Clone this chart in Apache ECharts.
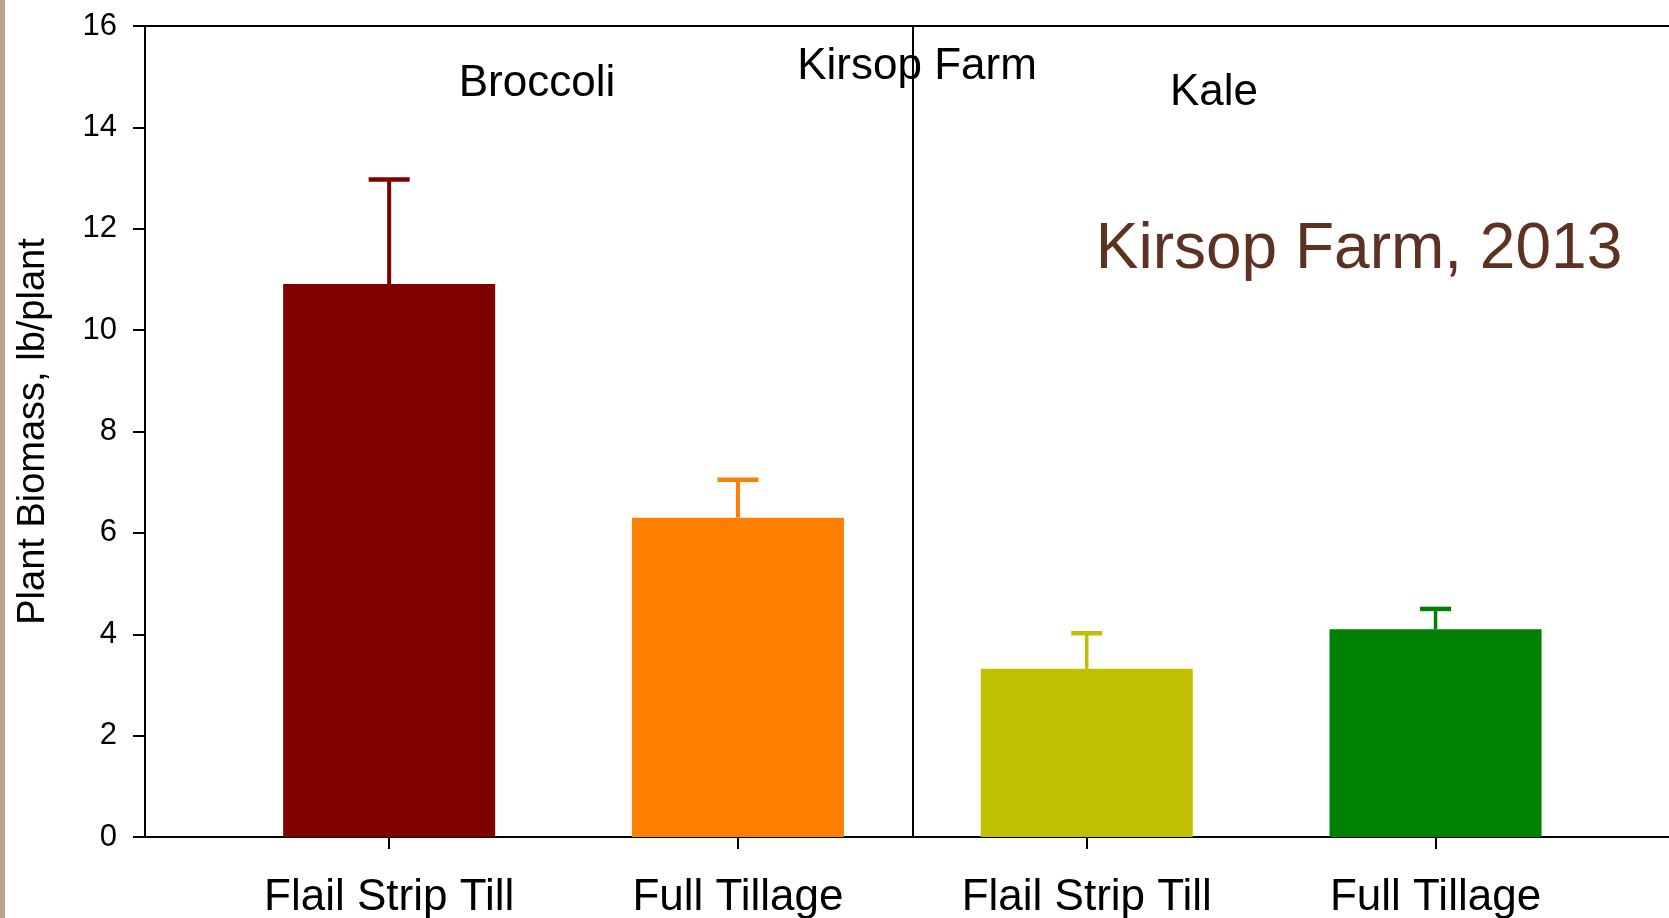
<!DOCTYPE html>
<html>
<head>
<meta charset="utf-8">
<script src="https://cdn.jsdelivr.net/npm/echarts@6/dist/echarts.min.js"></script>
<style>
  html, body { margin: 0; padding: 0; background: #fff; }
  #chart { width: 1669px; height: 918px; }
</style>
</head>
<body>
<div id="chart"></div>
<script>
// treatments, placed at x = 1..4 on a value axis
const categories = ['Flail Strip Till', 'Full Tillage', 'Flail Strip Till', 'Full Tillage'];
const positions = [1, 2, 3, 4];
const means = [10.91, 6.30, 3.32, 4.10];
const upper = [12.97, 7.05, 4.02, 4.50];   // mean + error
const barColors = ['#800000', '#FF8000', '#C0C000', '#008000'];
const capWidths = [41, 41, 31, 31];

const FONT = '"Liberation Sans", Arial, sans-serif';

const chart = echarts.init(document.getElementById('chart'));

const barData = positions.map((x, i) => ({
  value: [x, means[i]],
  itemStyle: { color: barColors[i] }
}));
const errData = positions.map((x, i) => [x, means[i], upper[i], i]);

const option = {
  backgroundColor: '#fff',
  animation: false,
  textStyle: { fontFamily: FONT },
  grid: { left: 145, top: 26, bottom: 81, width: 1534.7, containLabel: false, outerBoundsMode: 'none' },
  xAxis: [{
    type: 'value',
    min: 0.3,
    max: 4.7,
    splitLine: { show: false },
    axisLine: { show: true, onZero: false, lineStyle: { color: '#000', width: 2 } },
    axisTick: {
      show: true, customValues: positions, length: 12,
      lineStyle: { color: '#000', width: 2 }
    },
    axisLabel: {
      customValues: positions,
      margin: 39,
      color: '#000',
      fontSize: 44,
      fontFamily: FONT,
      formatter: v => categories[positions.indexOf(v)] || ''
    }
  }, {
    type: 'value',
    position: 'top',
    min: 0.3,
    max: 4.7,
    splitLine: { show: false },
    axisLine: { show: true, onZero: false, lineStyle: { color: '#000', width: 2 } },
    axisTick: { show: false },
    axisLabel: { show: false }
  }],
  yAxis: {
    type: 'value',
    min: 0,
    max: 16,
    interval: 2,
    name: 'Plant Biomass, lb/plant',
    nameLocation: 'middle',
    nameGap: 92,
    nameTextStyle: { color: '#000', fontSize: 38, fontFamily: FONT },
    splitLine: { show: false },
    axisLine: { show: true, lineStyle: { color: '#000', width: 2 } },
    axisTick: { show: true, length: 12, lineStyle: { color: '#000', width: 2 } },
    axisLabel: { color: '#000', fontSize: 31, margin: 28, fontFamily: FONT }
  },
  graphic: [
    { type: 'rect', left: 0, top: 0, shape: { width: 5, height: 918 }, style: { fill: '#BEA194' }, silent: true },
    { type: 'text', x: 917, y: 67, style: { text: 'Kirsop Farm', font: '44px ' + FONT, fill: '#000', align: 'center', verticalAlign: 'middle' } },
    { type: 'text', x: 537, y: 84, style: { text: 'Broccoli', font: '44px ' + FONT, fill: '#000', align: 'center', verticalAlign: 'middle' } },
    { type: 'text', x: 1214, y: 93, style: { text: 'Kale', font: '44px ' + FONT, fill: '#000', align: 'center', verticalAlign: 'middle' } },
    { type: 'text', x: 1359, y: 250, style: { text: 'Kirsop Farm, 2013', font: '64px ' + FONT, fill: '#5E3222', align: 'center', verticalAlign: 'middle' } }
  ],
  series: [{
    type: 'bar',
    barWidth: 212,
    data: barData,
    silent: true,
    markLine: {
      silent: true,
      symbol: 'none',
      label: { show: false },
      lineStyle: { color: '#000', width: 2, type: 'solid' },
      data: [{ xAxis: 2.5 }]
    }
  }, {
    type: 'custom',
    silent: true,
    data: errData,
    renderItem: (params, api) => {
      const i = api.value(3);
      const base = api.coord([api.value(0), api.value(1)]);
      const top = api.coord([api.value(0), api.value(2)]);
      const half = capWidths[i] / 2;
      const color = barColors[i];
      return {
        type: 'group',
        children: [{
          type: 'line',
          shape: { x1: base[0], y1: base[1], x2: top[0], y2: top[1] },
          style: { stroke: color, lineWidth: i < 2 ? 4 : 3.5 }
        }, {
          type: 'line',
          shape: { x1: top[0] - half, y1: top[1], x2: top[0] + half, y2: top[1] },
          style: { stroke: color, lineWidth: 4.5 }
        }]
      };
    }
  }]
};

chart.setOption(option);
</script>
</body>
</html>
